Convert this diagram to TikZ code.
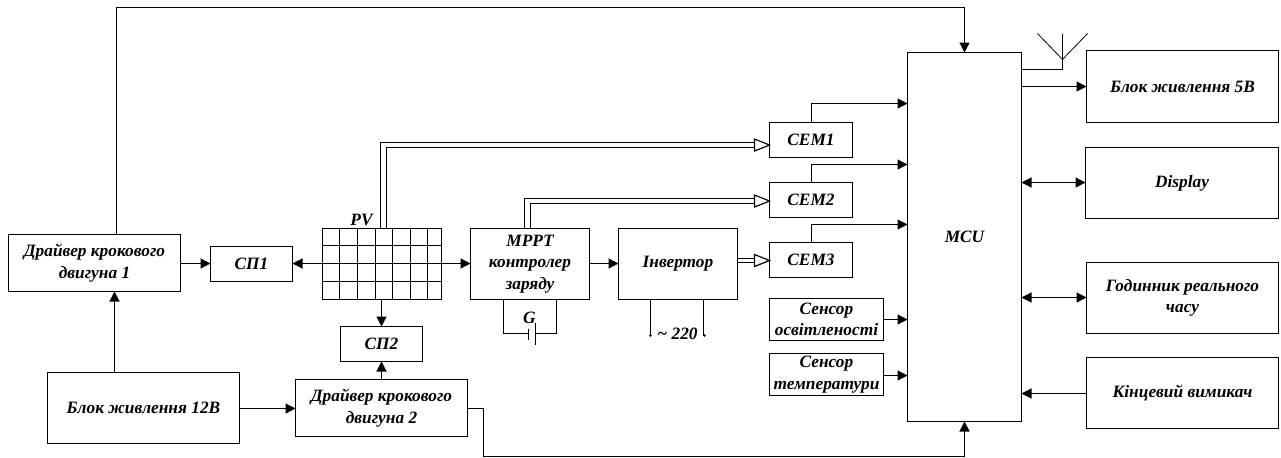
\documentclass[tikz,border=0pt]{standalone}
\usepackage{fontspec}
\setmainfont{Liberation Serif}
\usetikzlibrary{arrows.meta,calc}
\tikzset{
  blk/.style={draw,line width=0.9pt,rectangle,inner sep=0pt,outer sep=0pt,anchor=north west,align=center,
    font=\bfseries\itshape\fontsize{13}{16}\selectfont},
  conn/.style={line width=0.9pt,-{Triangle[length=7.5pt,width=7.5pt]}},
  biconn/.style={line width=0.9pt,{Triangle[length=7.5pt,width=7.5pt]}-{Triangle[length=7.5pt,width=7.5pt]}},
  plain/.style={line width=0.9pt},
  thinl/.style={line width=0.6pt},
  lbl/.style={inner sep=0pt,font=\bfseries\itshape\fontsize{13}{16}\selectfont},
  hollow/.style={line width=0.9pt,fill=white,line join=miter},
  bk/.style={fill=black,circle,inner sep=0pt,minimum size=2.2pt}
}
\newcommand{\bx}[6]{\node[blk,minimum width=#4*0.75pt,minimum height=#5*0.75pt] (#1) at (#2,#3) {#6};}
\begin{document}
\begin{tikzpicture}[x=0.75pt,y=-0.75pt]
\useasboundingbox (-0.5,-0.5) rectangle (1280.5,456.5);
\bx{drva}{8}{234}{172}{57}{Драйвер крокового\\двигуна 1}
\bx{spa}{210}{246}{82}{35}{СП1}
\bx{psu}{47}{372}{192}{71}{Блок живлення 12В}
\bx{drvb}{295}{379}{172}{57}{Драйвер крокового\\двигуна 2}
\bx{spb}{340}{326}{82}{35}{СП2}
\bx{mppt}{470}{228}{119}{71}{MPPT\\контролер\\заряду}
\bx{inv}{618}{228}{119}{71}{Інвертор}
\bx{cema}{769}{122}{83}{35}{СЕМ1}
\bx{cemb}{769}{182}{83}{35}{СЕМ2}
\bx{cemc}{769}{242}{83}{35}{СЕМ3}
\bx{sena}{769}{298}{114}{42}{Сенсор\\освітленості}
\bx{senb}{769}{353}{114}{42}{Сенсор\\температури}
\bx{mcu}{907}{52}{114}{369}{MCU}
\bx{psf}{1086}{50}{192}{72}{Блок живлення 5В}
\bx{dsp}{1085}{147}{193}{71}{Display}
\bx{clk}{1086}{262}{192}{71}{Годинник реального\\часу}
\bx{sw}{1086}{357}{192}{71}{Кінцевий вимикач}
% PV grid
\node[draw,line width=0.9pt,rectangle,inner sep=0pt,outer sep=0pt,anchor=north west,minimum width=119*0.75pt,minimum height=71*0.75pt] (pv) at (322,228) {};
\node[lbl] (pvl) at (361,219) {PV};
\foreach \gx in {339,357,375,392,410,427}
  \draw[plain] (\gx,228) -- (\gx,299);
\foreach \gy in {245,263,281}
  \draw[plain] (322,\gy) -- (441,\gy);
% helper coordinates
\coordinate (topl) at (116,7);
\coordinate (topr) at (964,7);
\coordinate (botl) at (483,456);
\coordinate (botr) at (964,456);
\coordinate (pvx) at (381,299);
\coordinate (lvl) at (0,263);
% single connectors
\draw[conn] (drva.north -| topl) |- (topr) -- (mcu.north -| topr);
\draw[conn] (psu.north -| 114,0) -- (drva.south -| 114,0);
\draw[conn] (drva.east |- 0,263) -- (spa.west |- 0,263);
\draw[conn] (pv.west |- lvl) -- (spa.east |- lvl);
\draw[conn] (pv.east |- lvl) -- (mppt.west |- lvl);
\draw[plain] (pv.west |- lvl) -- (pv.east |- lvl);
\draw[conn] (pvx) -- (spb.north -| pvx);
\draw[conn] (drvb.north -| pvx) -- (spb.south -| pvx);
\draw[conn] (psu.east |- 0,408) -- (drvb.west |- 0,408);
\draw[plain] (drvb.east |- 0,408) -| (botl);
\draw[conn] (botl) -- (botr) -- (mcu.south -| botr);
\draw[conn] (mppt.east |- lvl) -- (inv.west |- lvl);
% CEM to MCU
\draw[conn] (cema.north -| 811,0) |- (mcu.west |- 0,103);
\draw[conn] (cemb.north -| 811,0) |- (mcu.west |- 0,164);
\draw[conn] (cemc.north -| 811,0) |- (mcu.west |- 0,224);
\draw[conn] (sena.east |- 0,319) -- (mcu.west |- 0,319);
\draw[conn] (senb.east |- 0,375) -- (mcu.west |- 0,375);
% right side
\draw[conn] (mcu.east |- 0,86) -- (psf.west |- 0,86);
\draw[biconn] (mcu.east |- 0,182) -- (dsp.west |- 0,182);
\draw[biconn] (mcu.east |- 0,297) -- (clk.west |- 0,297);
\draw[conn] (sw.west |- 0,393) -- (mcu.east |- 0,393);
% antenna
\coordinate (ant) at (1062,59);
\draw[plain] (mcu.east |- 0,69) -| (ant);
\draw[thinl] (1037,33) -- (ant) -- (1087,33);
\draw[thinl] (ant) -- (1062,33);
% double lines PV -> CEM1
\draw[plain] (380,228) |- (755,142);
\draw[plain] (386,228) |- (755,147);
\draw[hollow] (cema.west |- 0,144.5) -- ++(-15,-6) -- ++(0,12) -- cycle;
% double lines MPPT -> CEM2
\draw[plain] (524,228) |- (755,198);
\draw[plain] (530,228) |- (755,203);
\draw[hollow] (cemb.west |- 0,200.5) -- ++(-15,-6) -- ++(0,12) -- cycle;
% double line inverter -> CEM3
\draw[plain] (inv.east |- 0,258) -- (755,258);
\draw[plain] (inv.east |- 0,262) -- (755,262);
\draw[hollow] (cemc.west |- 0,260) -- ++(-15,-6) -- ++(0,12) -- cycle;
% battery
\draw[plain] (503,299) |- (528,333);
\draw[plain] (556,299) |- (535,333);
\draw[plain] (528,328) -- (528,339);
\draw[plain] (535,322) -- (535,344);
\node[lbl] (gl) at (529,317.5) {G};
% 220
\draw[plain] (650,299) -- (650,335);
\draw[plain] (703,299) -- (703,335);
\node[bk] (da) at (650,335) {};
\node[bk] (db) at (704,335) {};
\node[lbl] (vl) at (677,333) {\textasciitilde\ 220};
\end{tikzpicture}
\end{document}
